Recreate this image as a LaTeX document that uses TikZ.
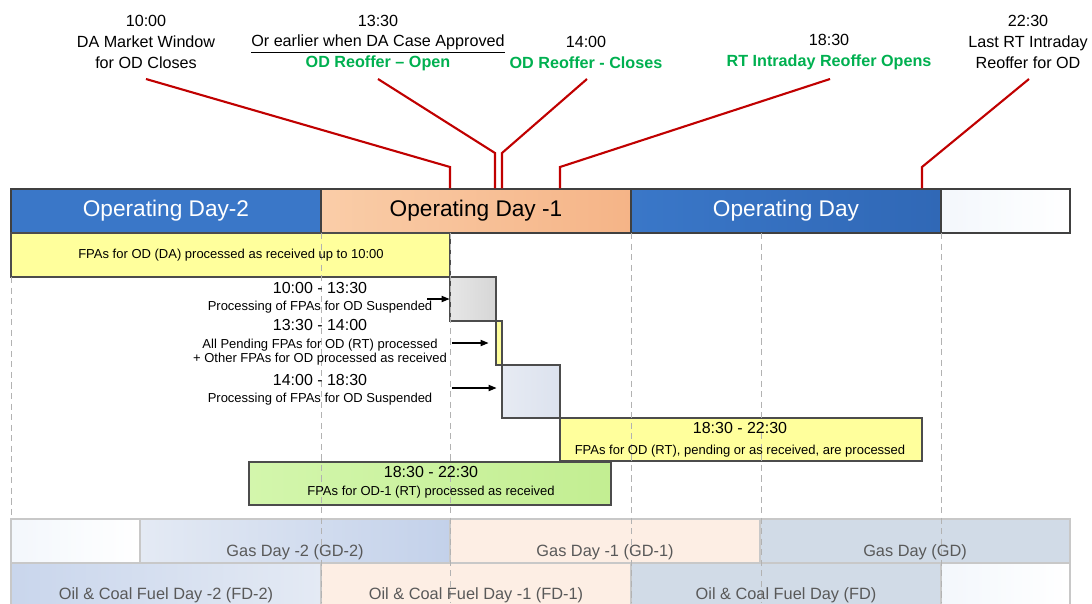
\documentclass[tikz,border=0pt]{standalone}
\usepackage{fontspec}
\setmainfont{Liberation Sans}
\usetikzlibrary{fit,arrows.meta}

\definecolor{dayblue}{HTML}{3A77C8}
\definecolor{daybluedk}{HTML}{3068B6}
\definecolor{dayorange}{HTML}{FACDA8}
\definecolor{dayorangedk}{HTML}{F5B487}
\definecolor{fpayellow}{HTML}{FFFF9C}
\definecolor{fpagreenlt}{HTML}{D3F6AC}
\definecolor{fpagreen}{HTML}{C3EE92}
\definecolor{holdgray}{HTML}{D6D6D6}
\definecolor{holdblue}{HTML}{DCE2EE}
\definecolor{markred}{HTML}{C00000}
\definecolor{reofgreen}{HTML}{00B050}
\definecolor{gasblue}{HTML}{C3D1EA}
\definecolor{gasbluelt}{HTML}{E4EAF4}
\definecolor{gaspeach}{HTML}{FDEEE4}
\definecolor{gasgray}{HTML}{D1DBE7}
\definecolor{paleblue}{HTML}{F3F7FC}
\definecolor{rowline}{HTML}{C8C8C8}
\definecolor{rowtext}{HTML}{595959}

\newcommand{\reoffertext}[1]{{\color{reofgreen}\bfseries #1}}

\begin{document}
\begin{tikzpicture}[x=0.02cm,y=-0.02cm,
  daybox/.style={fit={#1},inner sep=0pt,draw=black!75,line width=0.7pt},
  fpabox/.style={fit={#1},inner sep=0pt,draw=black!70,line width=0.6pt},
  rowbox/.style={fit={#1},inner sep=0pt,draw=rowline,line width=0.6pt},
  daylabel/.style={inner sep=0pt,font=\fontsize{12.9}{15}\selectfont},
  toplabel/.style={align=center,inner sep=0pt,font=\fontsize{9.2}{11.9}\selectfont},
  timelabel/.style={inner sep=0pt,font=\fontsize{9.1}{11}\selectfont},
  smalllabel/.style={inner sep=0pt,align=center,font=\fontsize{7.4}{7.9}\selectfont},
  rowlabel/.style={inner sep=0pt,text=rowtext,font=\fontsize{9.3}{11}\selectfont},
  tick/.style={draw=markred,line width=1.2pt},
  divider/.style={draw=black!30,dash pattern=on 3.5pt off 2.5pt,line width=0.5pt},
  arr/.style={-{Triangle[length=4.5pt,width=3.6pt]},line width=0.6pt}]
  \useasboundingbox (0,0) rectangle (1092,603);
  \clip (0,0) rectangle (1092,603);

  \node[daybox={(11,189)(321,233)},fill=dayblue](od2){};
  \node[daybox={(321,189)(631,233)},left color=dayorange,right color=dayorangedk](od1){};
  \node[daybox={(631,189)(941,233)},left color=dayblue,right color=daybluedk](od){};
  \node[daybox={(941,189)(1070,233)},left color=paleblue,right color=white](odnext){};
  \draw (od2.center) node[daylabel,text=white](od2-txt){Operating Day-2};
  \draw (od1.center) node[daylabel](od1-txt){Operating Day -1};
  \draw (od.center) node[daylabel,text=white](od-txt){Operating Day};

  \draw (146,42) node[toplabel](t1000){10:00\\DA Market Window\\for OD Closes};
  \draw (378,43) node[toplabel](t1330){13:30\\\underline{Or earlier when DA Case Approved}\\\reoffertext{OD Reoffer -- Open}};
  \draw (586,52) node[toplabel](t1400){14:00\\\reoffertext{OD Reoffer - Closes}};
  \draw (829,52) node[toplabel](t1830){18:30\\\reoffertext{RT Intraday Reoffer Opens}};
  \draw (1028,42) node[toplabel](t2230){22:30\\Last RT Intraday\\Reoffer for OD};

  \coordinate (k1) at (146,79);  \coordinate (b1) at (450,167);
  \coordinate (k2) at (378,79);  \coordinate (b2) at (495,153);
  \coordinate (k3) at (587,79);  \coordinate (b3) at (502,153);
  \coordinate (k4) at (830,79);  \coordinate (b4) at (560,167);
  \coordinate (k5) at (1029,79); \coordinate (b5) at (922,167);
  \draw[tick] (k1) -- (b1) -- (b1 |- od1.north);
  \draw[tick] (k2) -- (b2) -- (b2 |- od1.north);
  \draw[tick] (k3) -- (b3) -- (b3 |- od1.north);
  \draw[tick] (k4) -- (b4) -- (b4 |- od1.north);
  \draw[tick] (k5) -- (b5) -- (b5 |- od.north);

  \node[fpabox={(11,233)(450,277)},fill=fpayellow](da){};
  \node[fpabox={(450,277)(496,321)},left color=holdgray!60,right color=holdgray](hold1){};
  \node[fpabox={(496,321)(502,365)},fill=fpayellow](pend){};
  \node[fpabox={(502,365)(560,418)},left color=holdblue!70,right color=holdblue](hold2){};
  \node[fpabox={(560,418)(922,461)},fill=fpayellow](rt){};
  \node[fpabox={(249,462)(611,505)},left color=fpagreenlt,right color=fpagreen](rt1){};

  \node[rowbox={(11,519)(140,563)},left color=paleblue,right color=white](gdnone){};
  \node[rowbox={(140,519)(450,563)},left color=gasbluelt,right color=gasblue](gd2){};
  \node[rowbox={(450,519)(760,563)},fill=gaspeach](gd1){};
  \node[rowbox={(760,519)(1070,563)},fill=gasgray](gd){};
  \node[rowbox={(11,563)(321,615)},left color=gasblue!90,right color=gasbluelt](fd2){};
  \node[rowbox={(321,563)(631,615)},fill=gaspeach](fd1){};
  \node[rowbox={(631,563)(941,615)},fill=gasgray](fd){};
  \node[rowbox={(941,563)(1070,615)},left color=paleblue,right color=white](fdnext){};

  \draw[divider] (11,277) -- (11,519);
  \foreach \x in {321,450,631,761,941}
    \draw[divider] (\x,233) -- (\x,603);

  \draw (231,255) node[smalllabel](da-txt){FPAs for OD (DA) processed as received up to 10:00};
  \draw (320,288) node[timelabel](s1-time){10:00 - 13:30};
  \draw (320,307) node[smalllabel](s1-txt){Processing of FPAs for OD Suspended};
  \draw (320,325) node[timelabel](p-time){13:30 - 14:00};
  \draw (320,352) node[smalllabel](p-txt){All Pending FPAs for OD (RT) processed\\+ Other FPAs for OD processed as received};
  \draw (320,380) node[timelabel](s2-time){14:00 - 18:30};
  \draw (320,399) node[smalllabel](s2-txt){Processing of FPAs for OD Suspended};
  \draw (740,428) node[timelabel](rt-time){18:30 - 22:30};
  \draw (740,451) node[smalllabel](rt-txt){FPAs for OD (RT), pending or as received, are processed};
  \draw (431,472) node[timelabel](rt1-time){18:30 - 22:30};
  \draw (431,492) node[smalllabel](rt1-txt){FPAs for OD-1 (RT) processed as received};

  \coordinate (a1) at (427,299);
  \coordinate (a2) at (452,343);
  \coordinate (a3) at (452,388);
  \draw[arr] (a1) -- (a1 -| hold1.west);
  \draw[arr] (a2) -- ([xshift=-0.14cm]a2 -| pend.west);
  \draw[arr] (a3) -- ([xshift=-0.1cm]a3 -| hold2.west);

  \draw (295,552) node[rowlabel](gd2-txt){Gas Day -2 (GD-2)};
  \draw (605,552) node[rowlabel](gd1-txt){Gas Day -1 (GD-1)};
  \draw (915,552) node[rowlabel](gd-txt){Gas Day (GD)};
  \draw (166,595) node[rowlabel](fd2-txt){Oil \& Coal Fuel Day -2 (FD-2)};
  \draw (476,595) node[rowlabel](fd1-txt){Oil \& Coal Fuel Day -1 (FD-1)};
  \draw (786,595) node[rowlabel](fd-txt){Oil \& Coal Fuel Day (FD)};
\end{tikzpicture}
\end{document}
